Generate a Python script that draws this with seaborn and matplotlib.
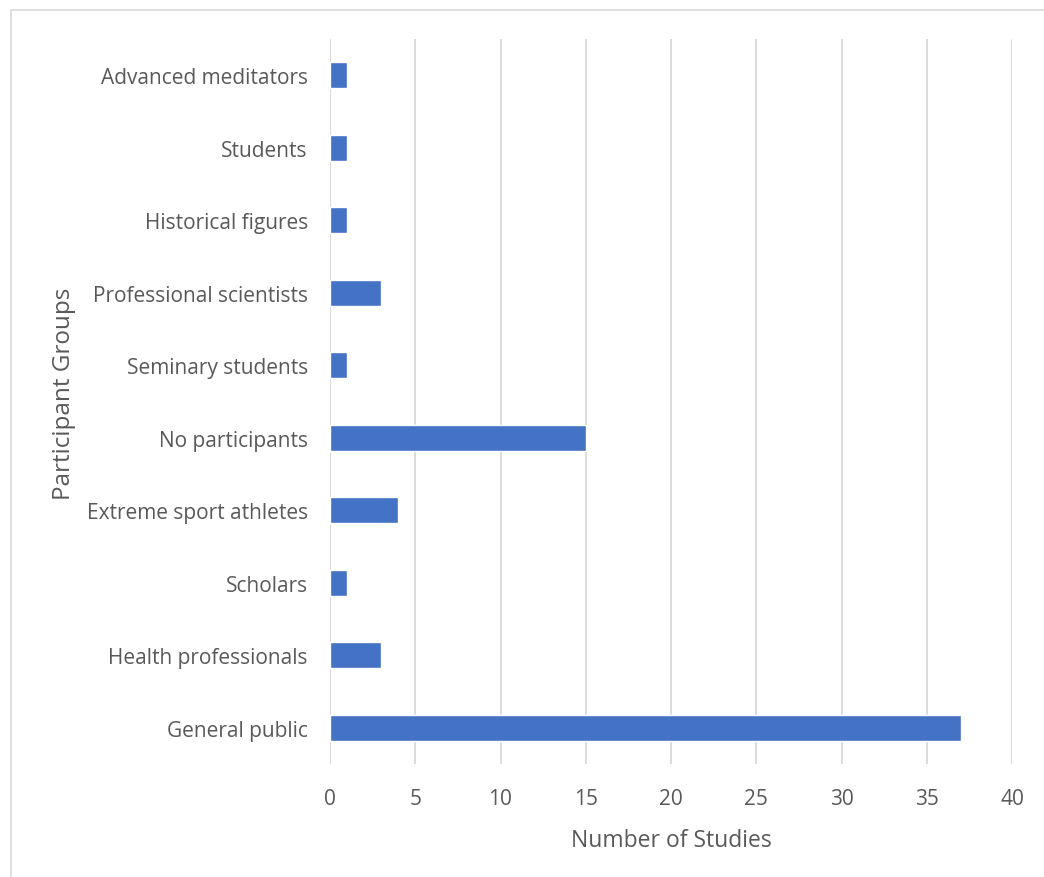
import matplotlib
matplotlib.use("Agg")
import matplotlib.pyplot as plt
import seaborn as sns
import pandas as pd
from matplotlib.lines import Line2D

categories = ["Advanced meditators", "Students", "Historical figures", "Professional scientists",
              "Seminary students", "No participants", "Extreme sport athletes", "Scholars",
              "Health professionals", "General public"]
values = [1, 1, 1, 3, 1, 15, 4, 1, 3, 37]
xticks = [0, 5, 10, 15, 20, 25, 30, 35, 40]

sns.set_theme(style="white")
plt.rcParams['font.family'] = ['Open Sans', 'DejaVu Sans']

df = pd.DataFrame({"group": categories, "count": values})

fig = plt.figure(figsize=(10.44, 8.78), dpi=100)
ax = fig.add_axes([330/1044, 1-765/878, (1012-330)/1044, (765-40)/878])

sns.barplot(data=df, y="group", x="count", orient="h", color="#4472C4",
            saturation=1, width=0.36, ax=ax, zorder=3)

ax.set_xlim(0, 40)
ax.set_xticks(xticks)
ax.set_xticklabels([str(t) for t in xticks])
ax.grid(axis="x", color="#D9D9D9", linewidth=1.3, zorder=0)
ax.grid(axis="y", visible=False)
for s in ["top", "right", "bottom", "left"]:
    ax.spines[s].set_visible(False)
ax.tick_params(axis="both", length=0, labelsize=15, labelcolor="#595959")
ax.tick_params(axis="x", pad=17)
ax.tick_params(axis="y", pad=16)
ax.set_xlabel("Number of Studies", fontsize=16.5, color="#595959", labelpad=14)
ax.set_ylabel("Participant Groups", fontsize=17.5, color="#595959", labelpad=6)
ax.yaxis.set_label_coords(-0.372, 0.5 + 9/725)

# outer light border
fig.add_artist(Line2D([11/1044, 11/1044], [0, 1-11/878], transform=fig.transFigure,
                      color="#D9D9D9", linewidth=1.2))
fig.add_artist(Line2D([11/1044, 1], [1-11/878, 1-11/878], transform=fig.transFigure,
                      color="#D9D9D9", linewidth=1.2))

fig.savefig("out.png", dpi=100, facecolor="white")
